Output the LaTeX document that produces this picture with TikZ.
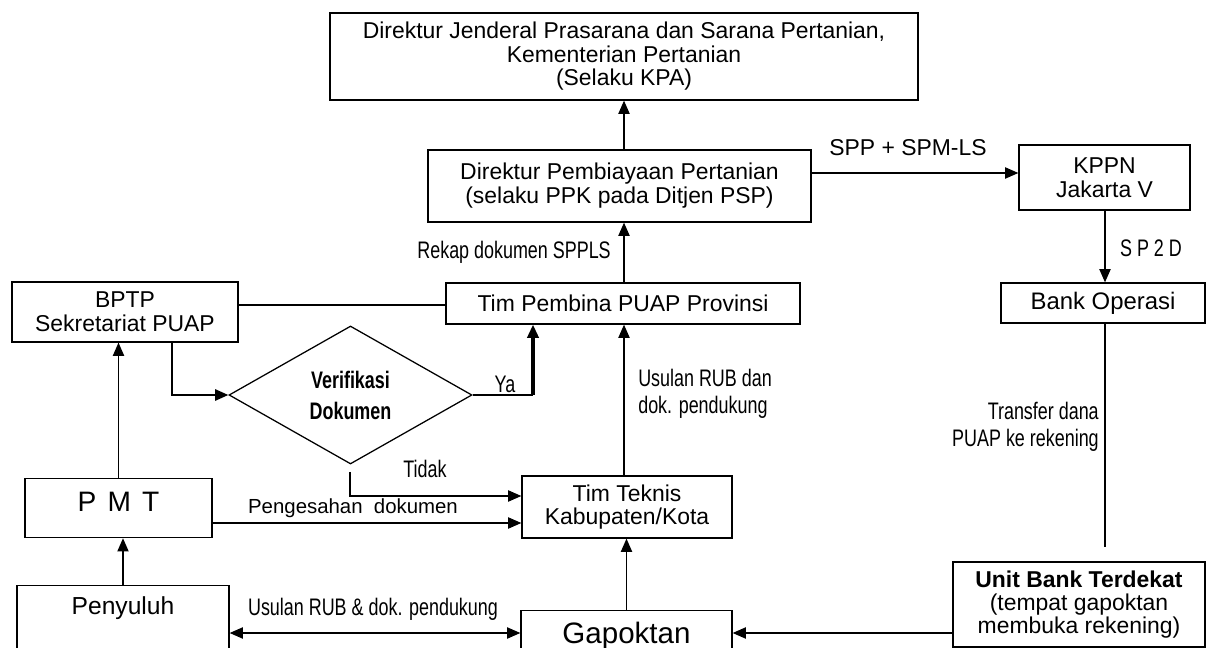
\documentclass[tikz,border=0pt]{standalone}
\usepackage{fontspec}
\setmainfont{Liberation Sans}
\newfontfamily\narrowfont{Liberation Sans}[FakeStretch = 0.75]
\usetikzlibrary{positioning}
\usetikzlibrary{arrows.meta}
\usetikzlibrary{shapes.geometric}

\newcommand{\pxw}{0.025cm}

\begin{document}
\begin{tikzpicture}[x = 0.025cm, y = -0.025cm,
		box/.style = {draw, line width = 0.9pt, inner sep = 0pt, align = center, font = \fontsize{16.3}{17}\selectfont},
		arr/.style = {line width = 0.9pt, -{Triangle[length = 0.33cm, width = 0.28cm]}},
		lbl/.style = {inner sep = 0pt, align = left, font = \narrowfont\fontsize{17}{19}\selectfont},
		txt/.style = {inner sep = 0pt, font = \fontsize{16.3}{18}\selectfont}]
	\useasboundingbox (0, 0) rectangle (1211, 648);
	\clip (0, 0) rectangle (1211, 648);
	% boxes
	\node [box, minimum width = 588*\pxw, minimum height = 87*\pxw, font = \fontsize{16.3}{16.7}\selectfont] (kpa) at (624, 56.5) {Direktur Jenderal Prasarana dan Sarana Pertanian,\\ Kementerian Pertanian\\ (Selaku KPA)};
	\node [box, minimum width = 383*\pxw, minimum height = 72*\pxw] (dirp) at (619.5, 186) {Direktur Pembiayaan Pertanian\\ (selaku PPK pada Ditjen PSP)};
	\node [box, minimum width = 171*\pxw, minimum height = 65*\pxw] (kppn) at (1104.5, 177.5) {KPPN\\ Jakarta V};
	\node [box, minimum width = 204*\pxw, minimum height = 40*\pxw, font = \fontsize{17}{19}\selectfont] (bank) at (1103, 303) {Bank Operasi};
	\node [box, minimum width = 252*\pxw, minimum height = 85*\pxw, font = \fontsize{16.3}{16.3}\selectfont] (unit) at (1079, 604.5) {\textbf{Unit Bank Terdekat}\\ (tempat gapoktan\\ membuka rekening)};
	\node [box, minimum width = 354*\pxw, minimum height = 41*\pxw] (pembina) at (623, 303.5) {Tim Pembina PUAP Provinsi};
	\node [box, minimum width = 210*\pxw, minimum height = 62*\pxw, font = \fontsize{16.3}{16.3}\selectfont] (teknis) at (627, 507) {Tim Teknis\\ Kabupaten/Kota};
	\node [box, anchor = north, minimum width = 211*\pxw, text height = 32.5*\pxw, text depth = 50*\pxw, font = \fontsize{21}{24}\selectfont] (gap) at (626.5, 610) {Gapoktan};
	\node [box, minimum width = 226*\pxw, minimum height = 60*\pxw] (bptp) at (125, 312) {BPTP\\ Sekretariat PUAP};
	\node [box, anchor = north, minimum width = 187*\pxw, text height = 33*\pxw, text depth = 26*\pxw, font = \fontsize{20}{23}\selectfont] (pmt) at (118.5, 478) {P\hspace{0.4em}M\hspace{0.4em}T};
	\node [box, anchor = north, minimum width = 212*\pxw, text height = 29*\pxw, text depth = 60*\pxw, font = \fontsize{17.5}{20}\selectfont] (peny) at (123, 585) {Penyuluh};
	\node [draw, diamond, line width = 0.9pt, aspect = 1.75, inner sep = 0pt, minimum width = 243*\pxw, minimum height = 138*\pxw, align = center, font = \narrowfont\bfseries\fontsize{17}{22}\selectfont] (verif) at (350.5, 395) {Verifikasi\\ Dokumen};
	% labels
	\node [txt] (lspp) at (908, 148) {SPP + SPM-LS};
	\node [lbl] (lsp2d) at (1151, 248) {S P 2 D};
	\node [lbl, anchor = east, align = right] (ltransfer) at (1099, 427) {Transfer dana\\ PUAP ke rekening};
	\node [lbl, anchor = west] (lusulan) at (638, 394) {Usulan RUB dan\\ dok. pendukung};
	\node [lbl, anchor = east] (lrekap) at (611, 252) {Rekap dokumen SPPLS};
	\node [lbl] (lya) at (505, 384) {Ya};
	\node [lbl] (ltidak) at (425, 469) {Tidak};
	\node [txt, font = \fontsize{14.5}{17}\selectfont] (lsah) at (353, 508) {Pengesahan\ \ dokumen};
	\node [lbl] (lusulrub) at (373, 609) {Usulan RUB \& dok. pendukung};
	% connectors
	\coordinate (spine) at (624, 0);
	\coordinate (low) at (0, 633);
	\coordinate (tend) at (1105, 547);
	\coordinate (tidtop) at (350, 472);
	\coordinate (yax) at (533, 395);
	\draw [arr] (dirp.north -| spine) -- (kpa.south -| spine);
	\draw [arr] (dirp.east |- 0, 173) -- (kppn.west |- 0, 173);
	\draw [arr] (kppn.south -| tend) -- (bank.north -| tend);
	\draw [line width = 0.9pt] (bank.south -| tend) -- (tend);
	\draw [arr] (unit.west |- low) -- (gap.east |- low);
	\draw [arr] (gap.north) -- (gap.north |- teknis.south);
	\draw [arr] (teknis.north -| spine) -- (pembina.south -| spine);
	\draw [arr] (pembina.north -| spine) -- (dirp.south -| spine);
	\draw [line width = 0.9pt] (bptp.east |- 0, 305) -- (pembina.west |- 0, 305);
	\draw [arr, line width = 1.4pt] (bptp.south -| 172, 0) |- (verif.west);
	\draw [line width = 0.9pt] (verif.east) -- (yax);
	\draw [arr, line width = 2.2pt] (yax) -- (yax |- pembina.south);
	\draw [arr] (tidtop) |- (teknis.west |- 0, 496);
	\draw [arr] (pmt.north) -- (pmt.north |- bptp.south);
	\draw [arr] (pmt.east |- 0, 523) -- (teknis.west |- 0, 523);
	\draw [arr] (peny.north) -- (peny.north |- pmt.south);
	\draw [line width = 0.9pt, {Triangle[length = 0.33cm, width = 0.28cm]}-{Triangle[length = 0.33cm, width = 0.28cm]}] (peny.east |- low) -- (gap.west |- low);
\end{tikzpicture}
\end{document}
